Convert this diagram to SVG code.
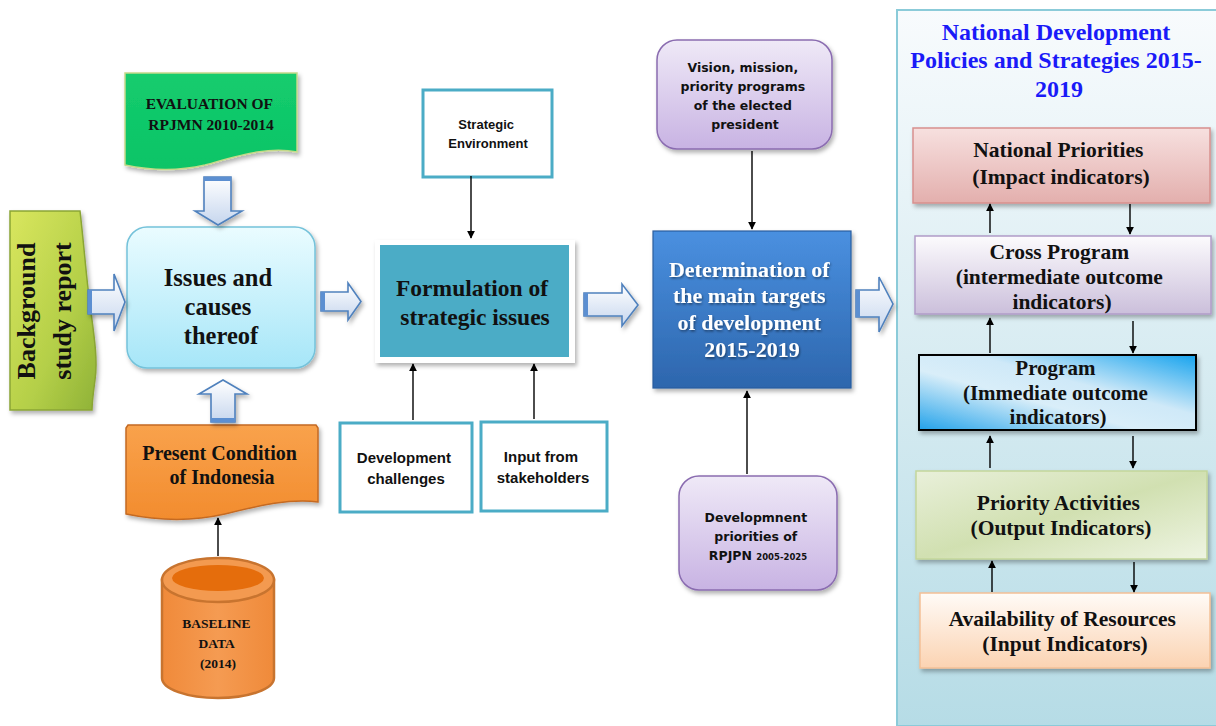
<svg xmlns="http://www.w3.org/2000/svg" width="1216" height="726" viewBox="0 0 1216 726">
  <defs>
    <style>
      .serif { font-family: "Liberation Serif", "Times New Roman", serif; font-weight: bold; fill: #111; text-anchor: middle; }
      .sans { font-family: "Liberation Sans", Arial, sans-serif; font-weight: bold; fill: #111; text-anchor: middle; }
      .geo { font-family: "DejaVu Sans", "Liberation Sans", sans-serif; font-weight: bold; fill: #111; text-anchor: middle; }
      .teal-box { fill: #fff; stroke: #4bacc6; stroke-width: 3; }
      .block-arrow { fill: url(#gArrow); stroke: #4f81bd; stroke-width: 1.6; stroke-linejoin: miter; }
      .link { stroke: #000; stroke-width: 1.4; fill: none; marker-end: url(#head); }
    </style>
    <marker id="head" viewBox="0 0 10 10" refX="9" refY="5" markerWidth="8" markerHeight="8" markerUnits="userSpaceOnUse" orient="auto">
      <path d="M0,0 L10,5 L0,10 Z" fill="#000"/>
    </marker>
    <filter id="shadow" x="-10%" y="-10%" width="125%" height="130%">
      <feDropShadow dx="2" dy="3" stdDeviation="2" flood-color="#000" flood-opacity="0.3"/>
    </filter>
    <filter id="textShadow" x="-5%" y="-10%" width="115%" height="130%">
      <feDropShadow dx="1" dy="1.5" stdDeviation="1" flood-color="#000" flood-opacity="0.45"/>
    </filter>
    <linearGradient id="gArrow" x1="0" y1="0" x2="0" y2="1">
      <stop offset="0" stop-color="#ffffff"/>
      <stop offset="1" stop-color="#c6d6ee"/>
    </linearGradient>
    <linearGradient id="gBackground" x1="0" y1="0" x2="1" y2="1">
      <stop offset="0" stop-color="#d9e65e"/>
      <stop offset="0.6" stop-color="#b4cf48"/>
      <stop offset="1" stop-color="#8fb237"/>
    </linearGradient>
    <linearGradient id="gEval" x1="0" y1="0" x2="0" y2="1">
      <stop offset="0" stop-color="#14cc6e"/>
      <stop offset="1" stop-color="#0cc466"/>
    </linearGradient>
    <linearGradient id="gIssues" x1="0" y1="0" x2="0" y2="1">
      <stop offset="0" stop-color="#eafcff"/>
      <stop offset="1" stop-color="#a6e6f8"/>
    </linearGradient>
    <linearGradient id="gPresent" x1="0" y1="0" x2="0" y2="1">
      <stop offset="0" stop-color="#f9a24c"/>
      <stop offset="1" stop-color="#f28c2e"/>
    </linearGradient>
    <linearGradient id="gCyl" x1="0" y1="0" x2="1" y2="0">
      <stop offset="0" stop-color="#f08a3a"/>
      <stop offset="0.5" stop-color="#f59b52"/>
      <stop offset="1" stop-color="#ef8a3a"/>
    </linearGradient>
    <linearGradient id="gPurple" x1="0" y1="0" x2="0" y2="1">
      <stop offset="0" stop-color="#efe9f7"/>
      <stop offset="1" stop-color="#c8b3e3"/>
    </linearGradient>
    <linearGradient id="gDeterm" x1="0" y1="0" x2="0" y2="1">
      <stop offset="0" stop-color="#4a90e0"/>
      <stop offset="1" stop-color="#2d66ad"/>
    </linearGradient>
    <linearGradient id="gPanel" x1="0" y1="0" x2="0" y2="1">
      <stop offset="0" stop-color="#f8fbfd"/>
      <stop offset="1" stop-color="#b6dce6"/>
    </linearGradient>
    <linearGradient id="gNational" x1="0" y1="0" x2="0" y2="1">
      <stop offset="0" stop-color="#f7e0df"/>
      <stop offset="1" stop-color="#e3afad"/>
    </linearGradient>
    <linearGradient id="gCross" x1="0" y1="0" x2="0" y2="1">
      <stop offset="0" stop-color="#fcfbfd"/>
      <stop offset="1" stop-color="#cbbfdb"/>
    </linearGradient>
    <linearGradient id="gProgram" x1="0" y1="1" x2="1" y2="0">
      <stop offset="0" stop-color="#22a2ea"/>
      <stop offset="0.4" stop-color="#d9eef9"/>
      <stop offset="0.6" stop-color="#cfe9f8"/>
      <stop offset="1" stop-color="#16a3ee"/>
    </linearGradient>
    <linearGradient id="gActivities" x1="0" y1="0" x2="1" y2="1">
      <stop offset="0" stop-color="#e9f0da"/>
      <stop offset="0.5" stop-color="#d1e0b1"/>
      <stop offset="1" stop-color="#eef4e2"/>
    </linearGradient>
    <linearGradient id="gResources" x1="0" y1="0" x2="0" y2="1">
      <stop offset="0" stop-color="#fffbf7"/>
      <stop offset="1" stop-color="#fbd3b2"/>
    </linearGradient>
  </defs>

  <rect width="1216" height="726" fill="#fff"/>

  <!-- policy panel on the right -->
  <g id="policy-panel">
    <rect x="897" y="10" width="325" height="716" fill="url(#gPanel)" stroke="#8bcbd9" stroke-width="2"/>
    <text class="serif" font-size="24" style="fill:#1a1af8">
      <tspan x="1059" y="40">National Development</tspan>
      <tspan x="1059" y="68">Policies and Strategies 2015-</tspan>
      <tspan x="1059" y="97">2019</tspan>
    </text>
  </g>

  <g id="background-study">
    <path d="M10,211 H80 C84,245 86,275 90,305 C94,335 98,360 95,380 C93,395 92,402 92,410 H10 Z" fill="url(#gBackground)" stroke="#8aa534" stroke-width="1.5" filter="url(#shadow)"/>
    <text class="serif" font-size="26" transform="translate(35,311) rotate(-90)">Background</text>
    <text class="serif" font-size="26" transform="translate(71,311) rotate(-90)">study report</text>
  </g>

  <g id="evaluation">
    <path d="M125,73 H297 V152 C268,146 238,156 205,165 C175,172 148,170 125,165 Z" fill="url(#gEval)" stroke="#c5d98a" stroke-width="1.5" filter="url(#shadow)"/>
    <text class="serif" font-size="15.5">
      <tspan x="211" y="109">EVALUATION OF</tspan>
      <tspan x="211" y="130">RPJMN 2010-2014</tspan>
    </text>
  </g>

  <g id="issues">
    <rect x="127" y="227" width="188" height="141" rx="20" fill="url(#gIssues)" stroke="#74c2da" stroke-width="1.5" filter="url(#shadow)"/>
    <text class="serif" font-size="24.5">
      <tspan x="221" y="286">Issues and</tspan>
      <tspan x="221" y="315">causes</tspan>
      <tspan x="221" y="344">thereof</tspan>
    </text>
  </g>

  <g id="present-condition">
    <path d="M128,425 H316 L318,428 V502 C290,498 258,506 225,514 C190,522 155,520 126,514 V428 Z" fill="url(#gPresent)" stroke="#c46a24" stroke-width="1.5" filter="url(#shadow)"/>
    <text class="serif" font-size="20">
      <tspan x="222" y="460">Present Condition</tspan>
      <tspan x="222" y="484">of Indonesia</tspan>
    </text>
  </g>

  <g id="baseline-data">
    <path d="M162,580 V678 A56,20 0 0 0 274,678 V580 Z" fill="url(#gCyl)" stroke="#c8742f" stroke-width="2.5"/>
    <ellipse cx="218" cy="580" rx="56" ry="22" fill="#f39a50" stroke="#c8742f" stroke-width="2.5"/>
    <ellipse cx="218" cy="578" rx="46" ry="13" fill="#e56d0c"/>
    <text class="serif" font-size="13.5">
      <tspan x="218" y="628">BASELINE</tspan>
      <tspan x="218" y="648">DATA</tspan>
      <tspan x="218" y="668">(2014)</tspan>
    </text>
  </g>

  <g id="strategic-environment">
    <rect class="teal-box" x="423" y="90" width="129" height="87"/>
    <text class="sans" font-size="13">
      <tspan x="488" y="129">Strategic</tspan>
      <tspan x="488" y="148">Environment</tspan>
    </text>
  </g>

  <g id="formulation">
    <rect x="375" y="240" width="200" height="123" fill="#fff" filter="url(#shadow)"/>
    <rect x="380" y="245" width="189" height="112" fill="#4bacc6"/>
    <text class="serif" font-size="23.5">
      <tspan x="475" y="296">Formulation of</tspan>
      <tspan x="475" y="325">strategic issues</tspan>
    </text>
  </g>

  <g id="development-challenges">
    <rect class="teal-box" x="340" y="423" width="132" height="89"/>
    <text class="sans" font-size="15">
      <tspan x="406" y="463">Development</tspan>
      <tspan x="406" y="484">challenges</tspan>
    </text>
  </g>

  <g id="stakeholder-input">
    <rect class="teal-box" x="481" y="422" width="126" height="89"/>
    <text class="sans" font-size="15">
      <tspan x="543" y="462">Input from</tspan>
      <tspan x="543" y="483">stakeholders</tspan>
    </text>
  </g>

  <g id="vision-mission">
    <rect x="657" y="40" width="175" height="109" rx="20" fill="url(#gPurple)" stroke="#8a6cb0" stroke-width="1.5" filter="url(#shadow)"/>
    <text class="geo" font-size="12.5">
      <tspan x="745" y="72">Vision, mission,</tspan>
      <tspan x="745" y="91">priority programs</tspan>
      <tspan x="745" y="110">of the elected</tspan>
      <tspan x="745" y="129">president</tspan>
    </text>
  </g>

  <g id="main-targets">
    <rect x="653" y="231" width="198" height="157" fill="url(#gDeterm)" stroke="#2b5e9e" stroke-width="1.2" filter="url(#shadow)"/>
    <text class="serif" font-size="22" style="fill:#fff" filter="url(#textShadow)">
      <tspan x="752" y="277">Determination of</tspan>
      <tspan x="752" y="303">the main targets</tspan>
      <tspan x="752" y="330">of development</tspan>
      <tspan x="752" y="357">2015-2019</tspan>
    </text>
  </g>

  <g id="rpjpn-priorities">
    <rect x="679" y="476" width="158" height="114" rx="20" fill="url(#gPurple)" stroke="#8a6cb0" stroke-width="1.5" filter="url(#shadow)"/>
    <text class="geo" font-size="12.5">
      <tspan x="758" y="522">Developmnent</tspan>
      <tspan x="758" y="541">priorities of</tspan>
      <tspan x="758" y="560">RPJPN <tspan font-size="8.5">2005-2025</tspan></tspan>
    </text>
  </g>

  <g id="national-priorities">
    <rect x="913" y="128" width="297" height="75" fill="url(#gNational)" stroke="#d8908e" stroke-width="1.5" filter="url(#shadow)"/>
    <text class="serif" font-size="21.5">
      <tspan x="1061" y="157">National Priorities</tspan>
      <tspan x="1061" y="184">(Impact indicators)</tspan>
    </text>
  </g>

  <g id="cross-program">
    <rect x="915" y="236" width="296" height="78" fill="url(#gCross)" stroke="#b09cc8" stroke-width="1.5" filter="url(#shadow)"/>
    <text class="serif" font-size="21.5">
      <tspan x="1062" y="259">Cross Program</tspan>
      <tspan x="1062" y="284">(intermediate outcome</tspan>
      <tspan x="1062" y="309">indicators)</tspan>
    </text>
  </g>

  <g id="program">
    <rect x="919" y="355" width="277" height="75" fill="url(#gProgram)" stroke="#000" stroke-width="2" filter="url(#shadow)"/>
    <text class="serif" font-size="21">
      <tspan x="1058" y="375">Program</tspan>
      <tspan x="1058" y="400">(Immediate outcome</tspan>
      <tspan x="1058" y="424">indicators)</tspan>
    </text>
  </g>

  <g id="priority-activities">
    <rect x="916" y="471" width="291" height="88" fill="url(#gActivities)" stroke="#c3d69b" stroke-width="1.5" filter="url(#shadow)"/>
    <text class="serif" font-size="21.5">
      <tspan x="1061" y="510">Priority Activities</tspan>
      <tspan x="1061" y="535">(Output Indicators)</tspan>
    </text>
  </g>

  <g id="resources">
    <rect x="920" y="593" width="290" height="75" fill="url(#gResources)" stroke="#f3c096" stroke-width="1.5" filter="url(#shadow)"/>
    <text class="serif" font-size="21.5">
      <tspan x="1065" y="626">Availability of Resources</tspan>
      <tspan x="1065" y="651">(Input Indicators)</tspan>
    </text>
  </g>

  <!-- connectors: hollow block arrows and thin arrows -->
  <g id="connectors">
    <g filter="url(#shadow)">
      <path class="block-arrow" d="M88,290 H114 V274 L125,302 L114,331 V314 H88 Z"/>
      <rect x="88" y="290" width="4" height="24" fill="#5b8fd1"/>
      <path class="block-arrow" d="M321,292 H348 V283 L361,301.5 L348,320 V311 H321 Z"/>
      <rect x="321" y="292" width="4" height="19" fill="#5b8fd1"/>
      <path class="block-arrow" d="M584,293 H622 V284 L638,305 L622,326 V316 H584 Z"/>
      <rect x="584" y="293" width="4" height="23" fill="#5b8fd1"/>
      <path class="block-arrow" d="M856,290 H879 V277 L893,304 L879,332 V317 H856 Z"/>
      <rect x="856" y="290" width="4" height="27" fill="#5b8fd1"/>
      <path class="block-arrow" d="M204,177 H231 V211 H242 L218,225 L195,211 H204 Z"/>
      <rect x="204" y="177" width="27" height="4" fill="#5b8fd1"/>
      <path class="block-arrow" d="M211,422 V394 H199 L223,380 L247,394 H235 V422 Z"/>
      <rect x="211" y="418" width="24" height="4" fill="#5b8fd1"/>
    </g>
    <line class="link" x1="218" y1="556" x2="218" y2="518"/>
    <line class="link" x1="471" y1="176" x2="471" y2="238"/>
    <line class="link" x1="413" y1="420" x2="413" y2="364"/>
    <line class="link" x1="534" y1="419" x2="534" y2="364"/>
    <line class="link" x1="752" y1="151" x2="752" y2="229"/>
    <line class="link" x1="747" y1="474" x2="747" y2="391"/>
    <line class="link" x1="990" y1="233" x2="990" y2="204"/>
    <line class="link" x1="1130" y1="204" x2="1130" y2="234"/>
    <line class="link" x1="990" y1="353" x2="990" y2="318"/>
    <line class="link" x1="1133" y1="321" x2="1133" y2="353"/>
    <line class="link" x1="990" y1="468" x2="990" y2="436"/>
    <line class="link" x1="1133" y1="436" x2="1133" y2="468"/>
    <line class="link" x1="992" y1="592" x2="992" y2="561"/>
    <line class="link" x1="1134" y1="562" x2="1134" y2="592"/>
  </g>
</svg>
